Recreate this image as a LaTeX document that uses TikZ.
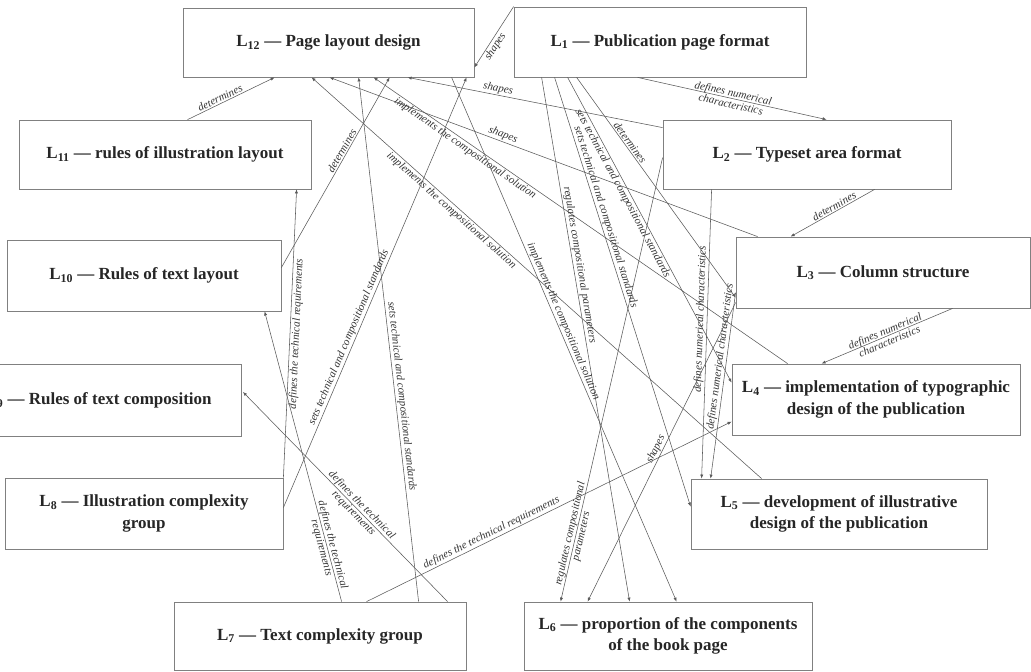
\documentclass[tikz,border=0pt]{standalone}
\usepackage{fontspec}
\setmainfont{Liberation Serif}
\usetikzlibrary{arrows.meta,calc}

\begin{document}
\begin{tikzpicture}[
    x=1pt, y=-1pt,
    level/.style={draw=black!50, line width=0.8pt, align=center,
        font=\bfseries\fontsize{17}{21.5}\selectfont, text=black!85},
    link/.style={draw=black!65, line width=0.55pt, -{Latex[length=4pt,width=3.2pt]}},
    note/.style={font=\itshape\fontsize{11}{11.5}\selectfont, text=black!80,
        inner sep=1.2pt, sloped, align=center}
]
\useasboundingbox (0,0) rectangle (1031,672);
\clip (0,0) rectangle (1031,672);

% Levels of the page model
\node[level, minimum width=291pt, minimum height=69pt] (L12) at (328.5,42.5) {L\textsubscript{12} — Page layout design};
\node[level, minimum width=292pt, minimum height=70pt] (L1) at (660,42) {L\textsubscript{1} — Publication page format};
\node[level, minimum width=288pt, minimum height=69pt] (L2) at (807,154.5) {L\textsubscript{2} — Typeset area format};
\node[level, minimum width=292pt, minimum height=69pt] (L11) at (165,154.5) {L\textsubscript{11} — rules of illustration layout};
\node[level, minimum width=294pt, minimum height=71pt] (L3) at (883,272.5) {L\textsubscript{3} — Column structure};
\node[level, minimum width=274pt, minimum height=71pt] (L10) at (144,275.5) {L\textsubscript{10} — Rules of text layout};
\node[level, minimum width=286pt, minimum height=72pt, anchor=north east] (L9) at (242,364) {L\textsubscript{9} — Rules of text composition};
\node[level, minimum width=288pt, minimum height=71pt] (L4) at (876,399.5) {L\textsubscript{4} — implementation of typographic\\design of the publication};
\node[level, minimum width=278pt, minimum height=71pt] (L8) at (144,513.5) {L\textsubscript{8} — Illustration complexity\\group};
\node[level, minimum width=296pt, minimum height=70pt] (L5) at (839,514) {L\textsubscript{5} — development of illustrative\\design of the publication};
\node[level, minimum width=292pt, minimum height=68pt] (L7) at (320,636) {L\textsubscript{7} — Text complexity group};
\node[level, minimum width=288pt, minimum height=68pt] (L6) at (668,636) {L\textsubscript{6} — proportion of the components\\of the book page};

% Links into L12
\draw[link] ($(L11.north west)+(169,0)$) -- node[note, above, pos=0.4] {determines} ($(L12.south west)+(92,0)$);
\draw[link] (L1.north west) -- node[note, below, pos=0.6] {shapes} ($(L12.south east)+(0,-10)$);
\draw[link] ($(L2.north west)+(0,8)$) -- node[note, above, pos=0.65] {shapes} ($(L12.south west)+(225,0)$);
\draw[link] ($(L3.north west)+(22,0)$) -- node[note, above, pos=0.6] {shapes} ($(L12.south west)+(147,0)$);
\draw[link] ($(L4.north west)+(56,0)$) -- node[note, below, pos=0.77] {implements the compositional solution} ($(L12.south west)+(191,0)$);
\draw[link] ($(L5.north west)+(71,0)$) -- node[note, below, pos=0.68] {implements the compositional solution} ($(L12.south west)+(129,0)$);
\draw[link] ($(L10.north east)+(0,28)$) -- node[note, above, pos=0.6] {determines} ($(L12.south west)+(207,0)$);
\draw[link] ($(L7.north west)+(245,0)$) -- node[note, above, pos=0.39] {sets technical and compositional standards} ($(L12.south west)+(176,0)$);
\draw[link] ($(L8.north east)+(0,30)$) -- node[note, above, pos=0.39] {sets technical and compositional standards} ($(L12.south west)+(284,0)$);

% Links from L1
\draw[link] ($(L1.south west)+(124,0)$) -- node[note, midway] {defines numerical\\characteristics} ($(L2.north west)+(164,0)$);
\draw[link] ($(L1.south west)+(63,0)$) -- node[note, above, pos=0.31] {determines} ($(L3.north west)+(0,61)$);
\draw[link] ($(L1.south west)+(54,0)$) -- node[note, below, pos=0.37] {sets technical and compositional standards} ($(L4.north west)+(0,19)$);
\draw[link] ($(L1.south west)+(41,0)$) -- node[note, above, pos=0.33] {sets technical and compositional standards} ($(L5.north west)+(0,28)$);
\draw[link] ($(L1.south west)+(28,0)$) -- node[note, above, pos=0.36] {regulates compositional parameters} ($(L6.north west)+(106,0)$);

% Links from L2 and L3
\draw[link] ($(L2.south west)+(212,0)$) -- node[note, above, pos=0.45] {determines} ($(L3.north west)+(55,0)$);
\draw[link] ($(L2.south west)+(49,0)$) -- node[note, above, pos=0.45] {defines numerical characteristics} ($(L5.north west)+(11,0)$);
\draw[link] ($(L2.north west)+(0,38)$) -- node[note, pos=0.85] {regulates compositional\\parameters} ($(L6.north west)+(37,0)$);
\draw[link] ($(L3.south west)+(217,0)$) -- node[note, midway] {defines numerical\\characteristics} ($(L4.north west)+(90,0)$);
\draw[link] ($(L3.north west)+(0,56)$) -- node[note, above, pos=0.35] {defines numerical characteristics} ($(L5.north west)+(20,0)$);
\draw[link] ($(L3.north west)+(0,66)$) -- node[note, above, pos=0.5] {shapes} ($(L6.north west)+(64,0)$);
\draw[link] ($(L12.south west)+(269,0)$) -- node[note, above, pos=0.47] {implements the compositional solution} ($(L6.north west)+(153,0)$);

% Links from L7 and L8
\draw[link] (L8.north east) -- node[note, below, pos=0.5] {defines the technical requirements} ($(L11.south west)+(278,0)$);
\draw[link] ($(L7.north west)+(168,0)$) -- node[note, pos=0.19] {defines the technical\\requirements} ($(L10.south west)+(258,0)$);
\draw[link] ($(L7.north west)+(274,0)$) -- node[note, pos=0.44] {defines the technical\\requirements} ($(L9.north east)+(1,28)$);
\draw[link] ($(L7.north west)+(193,0)$) -- node[note, above, pos=0.35] {defines the technical requirements} ($(L4.north west)+(0,58)$);

\end{tikzpicture}
\end{document}
